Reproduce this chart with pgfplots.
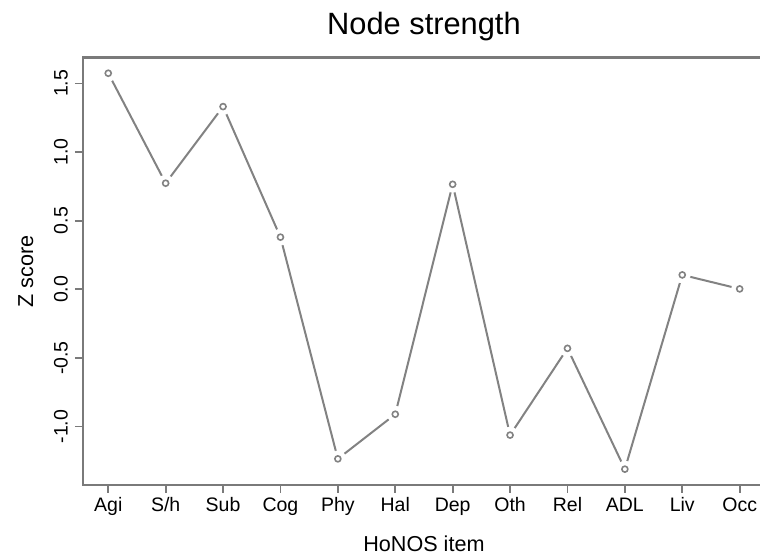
\documentclass[border=0pt]{standalone}
\usepackage{fontspec}
\setmainfont{Liberation Sans}
\usepackage{pgfplots}
\usepackage{pgfplotstable}
\pgfplotsset{compat=1.18}

\definecolor{framegray}{HTML}{7A7A7A}
\definecolor{linegray}{HTML}{828282}

% HoNOS items, z score of node strength
\pgfplotstableread{
x   z
0   1.574
1   0.773
2   1.331
3   0.380
4  -1.235
5  -0.910
6   0.765
7  -1.062
8  -0.430
9  -1.310
10  0.105
11  0.003
}\strength

\begin{document}
\begin{tikzpicture}
\begin{axis}[
    scale only axis,
    width=340.96pt, height=213.77pt,
    xmin=-0.44, xmax=11.44,
    ymin=-1.4254, ymax=1.689,
    axis line style={framegray, line width=1.3pt},
    xtick=data,
    xticklabels={Agi,S/h,Sub,Cog,Phy,Hal,Dep,Oth,Rel,ADL,Liv,Occ},
    ytick={-1,-0.5,0,0.5,1,1.5},
    xtick pos=bottom, ytick pos=left,
    tick align=outside,
    major tick length=4pt,
    tick style={framegray, line width=0.9pt},
    /pgf/number format/assume math mode=true,
    yticklabel style={/pgf/number format/fixed, /pgf/number format/fixed zerofill,
        /pgf/number format/precision=1, rotate=90, anchor=south, font=\fontsize{9.75}{12}\selectfont},
    xticklabel style={font=\fontsize{9.75}{12}\selectfont, text height=7.1pt, text depth=2pt, anchor=north, yshift=1.5pt},
    title={Node strength},
    title style={at={(axis description cs:0.5,1.025)}, anchor=base, font=\fontsize{15.4}{18}\selectfont},
    xlabel={HoNOS item},
    xlabel style={at={(axis description cs:0.5,-0.1545)}, anchor=base, font=\fontsize{10.8}{13}\selectfont},
    ylabel={Z score},
    ylabel style={at={(axis description cs:-0.0733,0.5)}, anchor=base, font=\fontsize{10.8}{13}\selectfont},
]
\addplot[linegray, line width=1pt] table[x=x, y=z] {\strength};
\addplot[white, only marks, mark=*, mark size=4pt] table[x=x, y=z] {\strength};
\addplot[linegray, only marks, mark=o, mark size=1.5pt, mark options={line width=0.8pt}] table[x=x, y=z] {\strength};
\coordinate (O) at (rel axis cs:0,0);
\end{axis}
\pgfresetboundingbox
\path ([shift={(-41.5pt,-35pt)}]O) rectangle ++(380pt,277.5pt);
\end{tikzpicture}
\end{document}
